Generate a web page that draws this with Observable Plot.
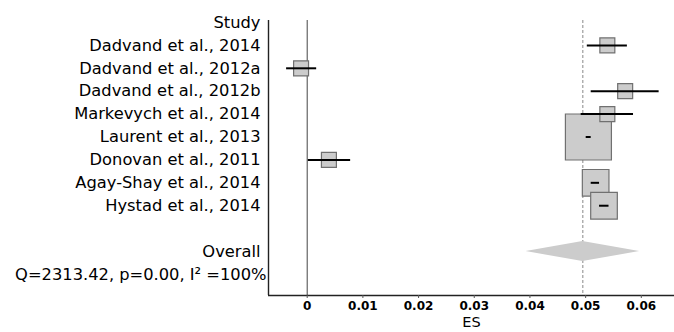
<!DOCTYPE html>
<html>
<head>
<meta charset="utf-8">
<script src="https://cdn.jsdelivr.net/npm/d3@7"></script>
<script src="https://cdn.jsdelivr.net/npm/@observablehq/plot@0.6"></script>
<style>
  html, body { margin: 0; padding: 0; background: #fff; }
  svg { display: block; }
</style>
</head>
<body>
<div id="chart"></div>
<script>
// ---- Data ----
const studies = ["Dadvand et al., 2014", "Dadvand et al., 2012a", "Dadvand et al., 2012b",
  "Markevych et al., 2014", "Laurent et al., 2013", "Donovan et al., 2011",
  "Agay-Shay et al., 2014", "Hystad et al., 2014"];
const es      = [0.0539, -0.0011, 0.0571, 0.0539, 0.0505, 0.0039, 0.0518, 0.0533];
const ciLow   = [0.0503, -0.0037, 0.0510, 0.0492, 0.0501, 0.0002, 0.0510, 0.0525];
const ciHigh  = [0.0575, 0.0017, 0.0632, 0.0586, 0.0510, 0.0078, 0.0525, 0.0542];
const weights = [4.8, 4.8, 4.8, 4.8, 45.4, 4.8, 15.2, 15.2];
const overallES = 0.0495, overallLow = 0.0393, overallHigh = 0.0597;
const Qstat = "2313.42", pValue = "0.00", I2 = "100";
const xTicks = [0, 0.01, 0.02, 0.03, 0.04, 0.05, 0.06];
const xTickLabels = ["0", "0.01", "0.02", "0.03", "0.04", "0.05", "0.06"];

// ---- Build tables ----
const rows = studies.map((s, i) => ({study: s, es: es[i], lo: ciLow[i], hi: ciHigh[i], w: weights[i], row: i + 1}));
const overallRow = rows.length + 2;
const statRow = overallRow + 1;
const labels = [{t: "Study", row: 0}, ...rows.map(d => ({t: d.study, row: d.row})), {t: "Overall", row: overallRow}];
const ticks = xTicks.map((v, i) => ({v, label: xTickLabels[i]}));
const h = 0.44;
const diamond = [
  {x: overallLow, y1: overallRow, y2: overallRow},
  {x: overallES, y1: overallRow + h, y2: overallRow - h},
  {x: overallHigh, y1: overallRow, y2: overallRow}
];
const xDomain = [-0.00695, 0.06596];
const yDomain = [11.92, -0.087];

const chart = Plot.plot({
  width: 674,
  height: 332,
  marginLeft: 268,
  marginRight: 0,
  marginTop: 20,
  marginBottom: 37,
  style: {fontFamily: "DejaVu Sans", background: "#fff", color: "#000"},
  x: {domain: xDomain, axis: null},
  y: {domain: yDomain, axis: null},
  r: {domain: [0, 45.4], range: [0, 25.96]},
  marks: [
    Plot.ruleX([0], {stroke: "#444", strokeWidth: 1}),
    Plot.ruleX([overallES], {stroke: "#888", strokeWidth: 1, strokeDasharray: "3,2"}),
    Plot.areaY(diamond, {x: "x", y1: "y1", y2: "y2", fill: "#cccccc"}),
    Plot.dot(rows, {x: "es", y: "row", r: "w", symbol: "square", fill: "#cccccc", stroke: "#707070", strokeWidth: 1.2}),
    Plot.ruleY(rows, {y: "row", x1: "lo", x2: "hi", stroke: "#000", strokeWidth: 2}),
    Plot.ruleX([xDomain[0]], {stroke: "#222", strokeWidth: 1.4}),
    Plot.ruleY([yDomain[0]], {stroke: "#222", strokeWidth: 1.6}),
    Plot.ruleX(ticks, {x: "v", y1: yDomain[0], y2: yDomain[0], insetBottom: -3, stroke: "#555", strokeWidth: 1}),
    Plot.text(ticks, {x: "v", text: "label", frameAnchor: "bottom", dy: 14, fontSize: 12, fontWeight: 600, fill: "#000"}),
    Plot.text(labels, {y: "row", text: "t", frameAnchor: "left", dx: -8, textAnchor: "end", fontSize: 16.3, fill: "#000"}),
    Plot.text([`Q=${Qstat}, p=${pValue}, I² =${I2}%`], {y: [statRow], text: d => d, frameAnchor: "left", dx: -2, textAnchor: "end", fontSize: 16.3, fill: "#000"}),
    Plot.text(["ES"], {frameAnchor: "bottom", dy: 31, text: d => d, fontSize: 14.5, fill: "#000"})
  ]
});
document.getElementById("chart").append(chart);
</script>
</body>
</html>
